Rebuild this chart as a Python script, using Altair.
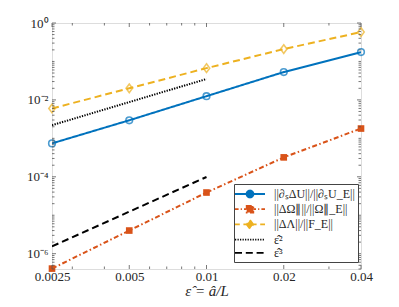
import math
import altair as alt
import pandas as pd

# ---- data ----
eps = [0.0025, 0.005, 0.01, 0.02, 0.04]
err_dU = [7.4e-4, 2.95e-3, 1.25e-2, 5.3e-2, 0.175]
err_dOmega = [4.1e-7, 4.0e-6, 3.9e-5, 3.2e-4, 1.8e-3]
err_dLambda = [6.0e-3, 2.0e-2, 6.7e-2, 0.21, 0.58]
eps_ref = [0.0025, 0.01]
ref_eps2 = [2.2e-3, 3.5e-2]
ref_eps3 = [1.55e-6, 9.9e-5]

names = ["||∂ₛΔU||/||∂ₛU_E||", "||ΔΩ∥||/||Ω∥_E||", "||ΔΛ||/||F_E||", "ε̂²", "ε̂³"]
colors = ["#0072BD", "#D95319", "#EDB120", "#000000", "#000000"]
dashes = [[1, 0], [5, 2.5, 1.5, 2.5], [7, 4], [1.3, 1.3], [7, 4]]

x_major = [0.0025, 0.005, 0.01, 0.02, 0.04]
x_minor = [0.003, 0.004, 0.006, 0.007, 0.008, 0.009, 0.03]
y_major = [1e-6, 1e-4, 1e-2, 1.0]
y_minor = [m * 10.0 ** k for k in range(-7, 0) for m in range(1, 10)
           if 4e-7 <= m * 10.0 ** k < 1 and not (m == 1 and k % 2 == 0)]

rows = []
for xv, yv in zip(eps, err_dU):
    rows.append({"series": names[0], "x": xv, "y": yv})
for xv, yv in zip(eps, err_dOmega):
    rows.append({"series": names[1], "x": xv, "y": yv})
for xv, yv in zip(eps, err_dLambda):
    rows.append({"series": names[2], "x": xv, "y": yv})
for xv, yv in zip(eps_ref, ref_eps2):
    rows.append({"series": names[3], "x": xv, "y": yv})
for xv, yv in zip(eps_ref, ref_eps3):
    rows.append({"series": names[4], "x": xv, "y": yv})
df = pd.DataFrame(rows)

W, H = 309, 246
FONT = "Liberation Serif"
AX = "#555555"
TXT = "#262626"

xs = alt.Scale(type="log", domain=[0.0025, 0.04], nice=False)
ys = alt.Scale(type="log", domain=[4e-7, 1.0], nice=False)
cscale = alt.Scale(domain=names, range=colors)
dscale = alt.Scale(domain=names, range=dashes)

# ---- legend symbols (line pattern + marker), unit = 6 px at size 144 ----
def segs(pairs):
    return "".join("M%.2f,0H%.2f" % (a, b) for a, b in pairs)

def circle_poly(r, n=20):
    pts = [(r * math.cos(2 * math.pi * i / n), r * math.sin(2 * math.pi * i / n)) for i in range(n)]
    return "M" + "L".join("%.3f,%.3f" % p for p in pts) + "Z"

dot_pairs = []
_x = -2.5
while _x < 2.5:
    dot_pairs.append((_x, min(_x + 0.2, 2.5)))
    _x += 0.42

legend_shapes = [
    segs([(-2.5, -0.58), (0.58, 2.5)]) + circle_poly(0.58),
    segs([(-2.5, -1.9), (-1.55, -1.35), (-1.0, -0.55), (0.55, 1.0), (1.35, 1.55), (1.9, 2.5)])
    + "M-0.55,-0.55H0.55V0.55H-0.55Z",
    segs([(-2.5, -1.7), (-1.1, -0.62), (0.62, 1.1), (1.7, 2.5)]) + "M0,-0.72L0.55,0L0,0.72L-0.55,0Z",
    segs(dot_pairs),
    segs([(-2.5, -1.3), (-0.7, 0.5), (1.1, 2.3)]),
]
legend_fill = ["transparent", "#D95319", "transparent", "transparent", "transparent"]

y_label_expr = ("datum.value >= 0.5 ? '10⁰' : datum.value >= 0.005 ? '10⁻²' : "
                "datum.value >= 0.00005 ? '10⁻⁴' : '10⁻⁶'")

x_axis = alt.Axis(orient="bottom", values=x_major, format="~g", tickSize=0,
                  domain=False, grid=False, labelFlush=False, labelOverlap=False,
                  labelPadding=1, labelFontSize=13, labelFont=FONT, labelColor=TXT,
                  titleFont=FONT, titleFontSize=15, titleFontStyle="italic",
                  titleFontWeight="normal", titleColor=TXT, titlePadding=0)
y_axis = alt.Axis(orient="left", values=y_major, labelExpr=y_label_expr, tickSize=0,
                  domain=False, grid=False, labelFlush=False, labelOverlap=False,
                  labelPadding=4, labelFontSize=13, labelFont=FONT, labelColor=TXT)

# first layer: carries the axes and the legend (draws no marks itself)
legend_layer = alt.Chart(df).transform_filter("datum.x < 0").mark_point(
    filled=False, size=144, strokeWidth=1.8
).encode(
    x=alt.X("x:Q", scale=xs, title="ε̂ = â/L", axis=x_axis),
    y=alt.Y("y:Q", scale=ys, title=None, axis=y_axis),
    color=alt.Color("series:N", scale=cscale,
                    legend=alt.Legend(title=None, orient="none", legendX=182, legendY=161,
                                      symbolSize=144, symbolStrokeWidth=1.8, symbolOpacity=1,
                                      symbolOffset=6, labelOffset=17, rowPadding=0.2,
                                      padding=3, labelFont=FONT, labelFontSize=12,
                                      labelColor=TXT, labelLimit=300,
                                      strokeColor="#444444", fillColor="white")),
    shape=alt.Shape("series:N", scale=alt.Scale(domain=names, range=legend_shapes),
                    legend=alt.Legend(title=None)),
    fill=alt.Fill("series:N", scale=alt.Scale(domain=names, range=legend_fill),
                  legend=alt.Legend(title=None)),
)

lines = alt.Chart(df).mark_line(strokeWidth=2, clip=True).encode(
    x=alt.X("x:Q", scale=xs),
    y=alt.Y("y:Q", scale=ys),
    color=alt.Color("series:N", scale=cscale, legend=None),
    strokeDash=alt.StrokeDash("series:N", scale=dscale, legend=None),
)

def marker_layer(idx, **mk):
    return alt.Chart(df).transform_filter(
        alt.datum.series == names[idx]
    ).mark_point(clip=False, **mk).encode(
        x=alt.X("x:Q", scale=xs),
        y=alt.Y("y:Q", scale=ys),
        color=alt.Color("series:N", scale=cscale, legend=None),
    )

circles = marker_layer(0, shape="circle", size=44, strokeWidth=1.6, filled=False)
squares = marker_layer(1, shape="square", size=44, filled=True, opacity=1)
diamonds = marker_layer(2, shape="M0,-1.15L0.85,0L0,1.15L-0.85,0Z", size=56,
                        strokeWidth=1.6, filled=False)

def xticks(vals, top, length):
    d = pd.DataFrame({"v": vals})
    y0 = 0 if top else H
    y1 = length if top else H - length
    return alt.Chart(d).mark_rule(color=AX, strokeWidth=0.8).encode(
        x=alt.X("v:Q", scale=xs), y=alt.value(y0), y2=alt.value(y1))

def yticks(vals, right, length):
    d = pd.DataFrame({"v": vals})
    x0 = W if right else 0
    x1 = W - length if right else length
    return alt.Chart(d).mark_rule(color=AX, strokeWidth=0.8).encode(
        y=alt.Y("v:Q", scale=ys), x=alt.value(x0), x2=alt.value(x1))

ticks = [
    xticks(x_major, False, 4), xticks(x_minor, False, 2.5),
    xticks(x_major, True, 4), xticks(x_minor, True, 2.5),
    yticks(y_major, False, 4), yticks(y_minor, False, 2.5),
    yticks(y_major, True, 4), yticks(y_minor, True, 2.5),
]

chart = alt.layer(legend_layer, lines, circles, squares, diamonds, *ticks).properties(
    width=W, height=H,
    autosize=alt.AutoSizeParams(type="none"),
    padding={"left": 44, "top": 15, "right": 30, "bottom": 30},
).configure_view(stroke=AX, strokeWidth=1).configure(background="white")

chart.save("out.html", embed_options={"renderer": "svg", "actions": False})
